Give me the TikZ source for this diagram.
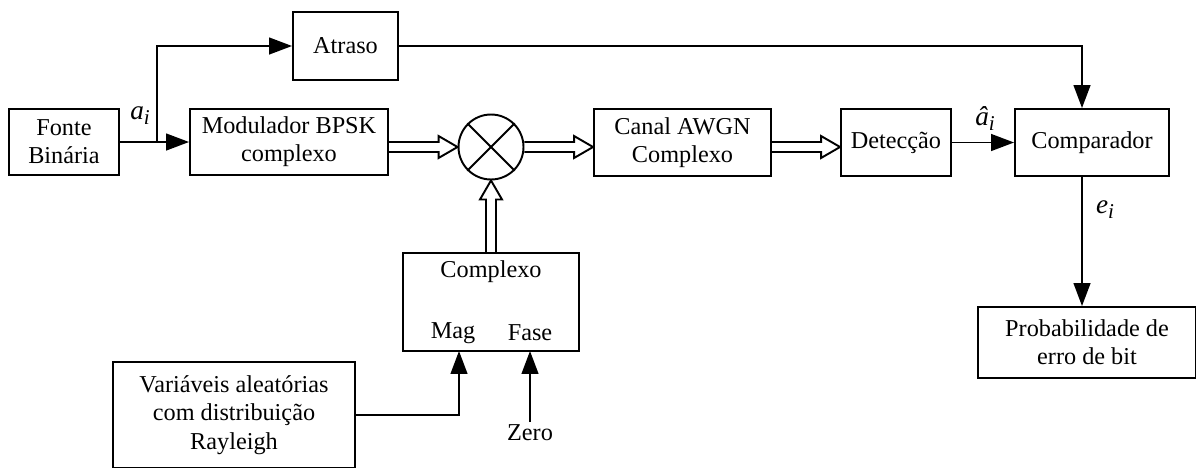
\documentclass[tikz,border=0pt]{standalone}
\usepackage{fontspec}
\setmainfont{Liberation Serif}
\usetikzlibrary{arrows.meta,calc}
\newcommand{\sub}[1]{\raisebox{-0.4ex}{\fontsize{12}{12}\selectfont #1}}

\begin{document}
\begin{tikzpicture}[x=0.02cm, y=-0.02cm, >={Triangle[length=13pt,width=9.5pt]},
        line width=1.1pt, font=\fontsize{13.8}{16.1}\selectfont,
        block/.style={draw,rectangle,align=center,inner sep=0pt},
        mixer/.style={draw,circle,inner sep=0pt,minimum size=1.3cm},
        lbl/.style={inner sep=1pt},
        sym/.style={inner sep=1pt,font=\fontsize{15.5}{17}\selectfont\itshape}]
        \useasboundingbox (0,0) rectangle (1196,467);
        \node[block,minimum width=2.2cm,minimum height=1.32cm] at (64,142) (src) {Fonte\\Binária};
        \node[block,minimum width=2.1cm,minimum height=1.36cm] at (345.5,46) (dly) {Atraso};
        \node[block,minimum width=3.96cm,minimum height=1.32cm] at (289,142) (mod) {Modulador BPSK\\complexo};
        \node[mixer] at (491,147) (mix) {};
        \node[block,minimum width=3.54cm,minimum height=1.34cm] at (682.5,142.5) (awgn) {Canal AWGN\\Complexo};
        \node[block,minimum width=2.2cm,minimum height=1.34cm] at (896,142.5) (det) {Detecção};
        \node[block,minimum width=3.08cm,minimum height=1.34cm] at (1092,142.5) (cmp) {Comparador};
        \node[block,minimum width=4.36cm,minimum height=1.42cm] at (1087,342.5) (ber) {Probabilidade de\\erro de bit};
        \node[block,minimum width=3.52cm,minimum height=1.96cm] at (491,302) (cpx) {};
        \node[lbl] at (491,272) (cpxname) {Complexo};
        \node[lbl] at (453,333) (mag) {Mag};
        \node[lbl] at (530,333) (fase) {Fase};
        \node[block,minimum width=4.84cm,minimum height=2.12cm] at (234,415) (rv) {Variáveis aleatórias\\com distribuição\\Rayleigh};
        \node[lbl] at (530,433) (zero) {Zero};
        \node[sym] at (140,116) (ai) {a\sub{i}};
        \node[sym] at (985,119) (ahat) {â\sub{i}};
        \node[sym] at (1105,210) (ei) {e\sub{i}};
        \coordinate (br) at (157,142);
        \coordinate (tap) at (1082,142);
        \coordinate (inmag) at (459,351);
        \coordinate (inph) at (530,351);
        % cross of the mixer
        \draw (mix.45) -- (mix.225);
        \draw (mix.135) -- (mix.315);
        % thin signal lines
        \draw[->] (src) -- (mod);
        \draw[->] (br) |- (dly);
        \draw[->] (dly) -| (tap |- cmp.north);
        \draw[->] (det) -- (cmp);
        \draw[->] (tap |- cmp.south) -- (tap |- ber.north);
        \draw[->] (rv) -| (inmag);
        \draw[->] (zero) -- (inph);
        % complex (hollow) signal lines
        \foreach \a/\b in {mod/mix,mix/awgn,awgn/det}
          \draw ($(\a.east |- mix)+(0,-5)$) -- ($(\b.west |- mix)+(-19,-5)$) -- ++(0,-6)
            -- (\b.west |- mix) -- ++(-19,11) -- ++(0,-6) -- ($(\a.east |- mix)+(0,5)$);
        \draw ($(cpx.north)+(-5,0)$) -- ($(mix.south)+(-5,19)$) -- ++(-6,0)
          -- (mix.south) -- ++(11,19) -- ++(-6,0) -- ($(cpx.north)+(5,0)$);
      \end{tikzpicture}
\end{document}
